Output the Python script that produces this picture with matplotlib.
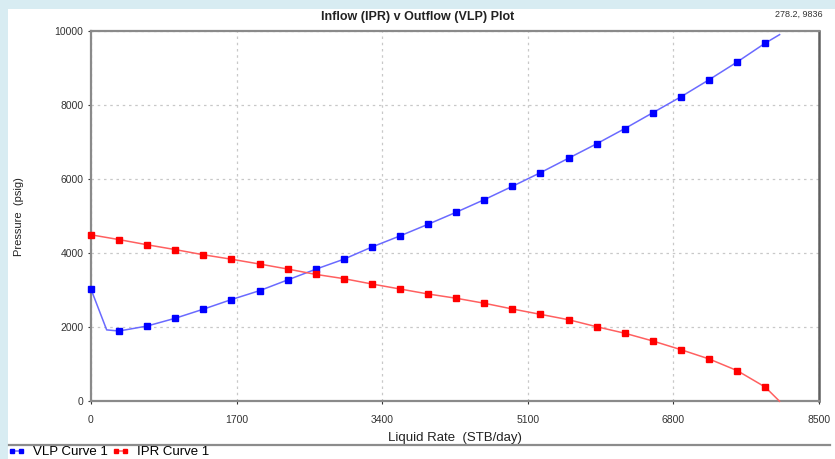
#=========================================================================
# plot.py
#=========================================================================
# Inflow (IPR) vs outflow (VLP) nodal analysis plot.

import matplotlib
matplotlib.use('Agg')
import matplotlib.pyplot as plt
from matplotlib.lines import Line2D
from matplotlib.patches import Rectangle

#-------------------------------------------------------------------------
# Data
#-------------------------------------------------------------------------

# VLP curve: first point, an unmarked kink, 24 marked points, unmarked end
vlp_rate = [0, 183, 328, 656, 984, 1312, 1640, 1968, 2296, 2624, 2952,
            3280, 3608, 3936, 4264, 4592, 4920, 5248, 5576, 5904, 6232,
            6560, 6888, 7216, 7544, 7872, 8040]
vlp_pres = [3030, 1930, 1900, 2035, 2245, 2490, 2750, 2990, 3280, 3570,
            3840, 4170, 4470, 4785, 5110, 5450, 5810, 6180, 6570, 6960,
            7370, 7800, 8230, 8690, 9170, 9680, 9910]

# IPR curve: 25 marked points, unmarked end at AOF
ipr_rate = [0, 328, 656, 984, 1312, 1640, 1968, 2296, 2624, 2952, 3280,
            3608, 3936, 4264, 4592, 4920, 5248, 5576, 5904, 6232, 6560,
            6888, 7216, 7544, 7872, 8040]
ipr_pres = [4500, 4370, 4230, 4100, 3960, 3840, 3710, 3575, 3430, 3315,
            3170, 3035, 2900, 2785, 2650, 2495, 2350, 2205, 2015, 1840,
            1630, 1395, 1145, 830, 385, 0]

x_ticks = [0, 1700, 3400, 5100, 6800, 8500]
y_ticks = [0, 2000, 4000, 6000, 8000, 10000]

#-------------------------------------------------------------------------
# Configure matplotlib
#-------------------------------------------------------------------------

plt.rcParams['font.family'] = ['Liberation Sans', 'DejaVu Sans']
plt.rcParams['font.size']   = 7

fig = plt.figure(figsize=(8.35, 4.59), dpi=100, facecolor='white')

# light blue frame strips on the left and top
bg = '#d8ecf2'
fig.add_artist(Rectangle((0, 0), 8/835, 1, transform=fig.transFigure,
                         facecolor=bg, edgecolor='none', zorder=0))
fig.add_artist(Rectangle((0, 1 - 9/459), 1, 9/459, transform=fig.transFigure,
                         facecolor=bg, edgecolor='none', zorder=0))

ax = fig.add_axes([91/835, 1 - 401.3/459, 728/835, 370/459])

#-------------------------------------------------------------------------
# Create plot
#-------------------------------------------------------------------------

vlp_marks = [0] + list(range(2, len(vlp_rate) - 1))
ipr_marks = list(range(0, len(ipr_rate) - 1))

ax.plot(vlp_rate, vlp_pres, color='#6a6aff', linewidth=1.1,
        marker='s', markersize=4.0, markerfacecolor='#0000ff',
        markeredgecolor='#0000ff', markevery=vlp_marks,
        label='VLP Curve 1', clip_on=False, zorder=3)
ax.plot(ipr_rate, ipr_pres, color='#ff6060', linewidth=1.1,
        marker='s', markersize=4.0, markerfacecolor='#ff0000',
        markeredgecolor='#ff0000', markevery=ipr_marks,
        label='IPR Curve 1', clip_on=False, zorder=3)

ax.set_xlim(0, 8500)
ax.set_ylim(0, 10000)
ax.set_xticks(x_ticks)
ax.set_yticks(y_ticks)
ax.tick_params(colors='#333333', labelsize=7.5, length=2, width=0.8)
ax.tick_params(axis='x', pad=8)
ax.grid(True, color='#c8c8c8', linestyle=(0, (2, 3)), linewidth=0.9)

for side in ['left', 'bottom', 'top']:
  ax.spines[side].set_color('#8a8a8a')
  ax.spines[side].set_linewidth(1.6)
ax.spines['right'].set_color('#606060')
ax.spines['right'].set_linewidth(1.8)

fig.text(418/835, 1 - 17/459, 'Inflow (IPR) v Outflow (VLP) Plot',
         fontsize=9, fontweight='bold', color='#222222',
         ha='center', va='center')
ax.set_xlabel('Liquid Rate  (STB/day)', fontsize=9.5, color='#222222',
              labelpad=5)
ax.set_ylabel('Pressure  (psig)', fontsize=8, color='#222222',
              labelpad=22)

# cursor readout in the top right corner
fig.text(775/835, 1 - 14/459, '278.2, 9836', fontsize=6.5,
         color='#333333', va='center', ha='left')

# separator above the legend
fig.add_artist(Line2D([9/835, 830/835], [1 - 445/459, 1 - 445/459],
                      transform=fig.transFigure, color='#8c8c8c',
                      linewidth=1.6))

fig.legend(loc='center left', bbox_to_anchor=(8/835, 1 - 452/459),
           ncol=2, frameon=False, fontsize=9.5, handlelength=1.3,
           handletextpad=0.6, columnspacing=0.3, numpoints=2,
           markerscale=0.75, borderaxespad=0, borderpad=0)

#-------------------------------------------------------------------------
# Save
#-------------------------------------------------------------------------

plt.savefig('out.png', dpi=100, facecolor='white')
